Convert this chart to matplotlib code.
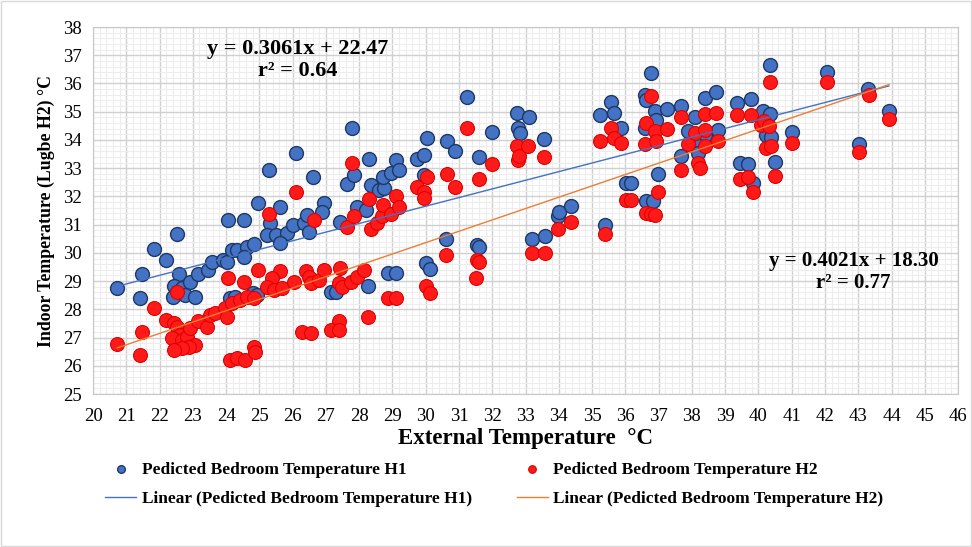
import numpy as np
import matplotlib.pyplot as plt
from matplotlib.patches import Rectangle
from matplotlib.ticker import MultipleLocator

plt.rcParams['font.family'] = ['Liberation Serif', 'DejaVu Serif']

# Temperatura exterior y temperatura interior predicha (H1)
h1_x = [20.73, 21.40, 21.47, 21.84, 22.20, 22.52, 22.57, 22.42, 22.52, 22.67,
        22.40, 22.77, 23.07, 22.92, 23.17, 23.47, 23.57, 23.92, 24.02, 24.18,
        24.33, 24.63, 24.83, 24.53, 24.81, 24.13, 24.28, 24.93, 24.07, 24.55,
        24.95, 25.30, 25.63, 25.33, 25.23, 25.50, 25.83, 25.63, 26.02, 26.33,
        26.43, 26.50, 26.10, 26.60, 26.94, 26.89, 27.14, 27.29, 27.42, 27.62,
        27.79, 27.84, 27.94, 28.19, 28.29, 28.34, 28.59, 28.74, 28.73, 28.95,
        29.10, 29.20, 28.26, 28.86, 29.12, 29.73, 29.95, 29.95, 30.00, 30.13,
        30.05, 30.60, 30.63, 30.88, 31.23, 31.55, 31.60, 31.60, 31.99, 32.73,
        32.76, 32.84, 33.10, 33.18, 33.58, 33.56, 33.97, 34.00, 34.37, 35.40,
        35.25, 35.57, 35.65, 35.87, 36.02, 36.17, 36.58, 36.63, 36.78, 36.88,
        36.93, 36.58, 37.25, 36.97, 36.63, 36.83, 37.68, 37.88, 37.66, 38.08,
        38.39, 38.71, 38.39, 38.78, 38.20, 38.18, 39.34, 39.44, 39.68, 39.79,
        39.84, 40.14, 40.34, 40.24, 40.39, 40.34, 40.51, 41.02, 42.05, 43.03,
        43.30, 43.92]
h1_y = [28.77, 28.39, 29.26, 30.14, 29.73, 30.67, 29.26, 28.81, 28.63, 28.75,
        28.45, 28.51, 28.45, 28.98, 29.26, 29.40, 29.69, 29.75, 29.69, 30.11,
        30.11, 30.22, 30.32, 29.87, 28.57, 28.39, 28.45, 28.51, 31.17, 31.15,
        31.77, 32.94, 31.63, 31.06, 30.64, 30.64, 30.70, 30.35, 31.00, 31.06,
        31.35, 30.74, 33.55, 32.70, 31.78, 31.46, 28.63, 28.60, 31.11, 32.45,
        34.44, 32.77, 31.62, 31.52, 33.33, 32.39, 32.24, 32.30, 32.70, 32.82,
        33.30, 32.94, 28.81, 29.28, 29.28, 33.32, 33.47, 32.77, 29.63, 29.43,
        34.06, 30.48, 33.97, 33.60, 35.52, 30.28, 30.22, 33.38, 34.28, 34.95,
        34.42, 34.24, 34.80, 30.50, 30.60, 34.03, 31.30, 31.45, 31.67, 30.99,
        34.89, 35.33, 34.95, 34.42, 32.49, 32.47, 35.60, 35.43, 36.36, 35.02,
        34.70, 34.42, 35.09, 32.80, 31.82, 31.84, 35.19, 34.33, 33.44, 34.81,
        35.48, 35.69, 34.18, 34.35, 33.77, 33.54, 35.31, 33.18, 33.16, 35.46,
        32.47, 35.02, 34.93, 34.18, 34.12, 36.64, 33.21, 34.28, 36.40, 33.85,
        35.82, 35.02]

# Temperatura interior predicha (H2)
h2_x = [20.73, 21.40, 21.47, 21.84, 22.20, 22.42, 22.52, 22.62, 22.37, 22.67,
        22.82, 22.92, 23.07, 22.87, 22.67, 22.42, 23.17, 23.42, 22.52, 23.52,
        23.67, 23.98, 24.02, 24.18, 24.43, 24.63, 24.83, 24.07, 24.55, 24.95,
        25.63, 25.38, 25.23, 25.43, 25.68, 26.03, 26.39, 26.49, 26.54, 26.79,
        24.13, 24.33, 24.58, 24.83, 24.88, 26.28, 26.54, 25.30, 26.10, 26.63,
        26.94, 27.39, 27.49, 27.74, 27.94, 28.14, 27.42, 27.39, 27.14, 27.39,
        27.62, 27.84, 27.79, 28.34, 28.54, 28.69, 28.29, 28.73, 28.95, 29.10,
        29.20, 28.26, 28.86, 29.12, 29.73, 29.95, 29.95, 30.05, 30.00, 30.13,
        30.60, 30.63, 30.88, 31.23, 31.55, 31.60, 31.52, 31.60, 31.99, 32.73,
        32.76, 32.81, 33.06, 33.18, 33.58, 33.56, 33.97, 34.37, 35.40, 35.25,
        35.57, 35.65, 35.87, 36.02, 36.17, 36.60, 36.63, 36.78, 36.88, 36.93,
        37.25, 36.97, 36.63, 36.78, 36.90, 37.68, 37.88, 37.66, 38.08, 38.39,
        38.39, 38.71, 38.78, 38.39, 38.18, 38.23, 39.34, 39.44, 39.68, 39.79,
        39.84, 40.09, 40.18, 40.31, 40.24, 40.37, 40.34, 40.51, 41.02, 42.05,
        43.03, 43.33, 43.92]
h2_y = [26.77, 26.38, 27.21, 28.04, 27.62, 27.51, 27.39, 27.09, 26.97, 26.91,
        27.03, 27.33, 26.74, 26.68, 26.62, 26.56, 27.57, 27.39, 28.63, 27.80,
        27.86, 28.04, 27.74, 28.21, 28.33, 28.45, 28.39, 29.10, 28.98, 29.40,
        29.34, 29.10, 28.78, 28.69, 28.75, 28.98, 29.34, 29.16, 28.92, 29.04,
        26.20, 26.26, 26.20, 26.68, 26.50, 27.21, 27.15, 31.38, 32.17, 31.17,
        29.40, 28.92, 28.78, 28.98, 29.16, 29.40, 29.46, 27.57, 27.27, 27.27,
        30.93, 31.31, 33.18, 30.84, 31.05, 31.29, 31.91, 31.70, 31.38, 32.00,
        31.64, 27.74, 28.39, 28.39, 32.35, 32.17, 31.94, 32.70, 28.81, 28.57,
        29.93, 32.80, 32.35, 34.42, 29.75, 29.68, 29.10, 32.61, 33.16, 33.77,
        33.30, 33.44, 33.80, 29.99, 30.01, 33.39, 30.84, 31.11, 30.67, 33.95,
        34.42, 34.07, 33.89, 31.88, 31.88, 33.87, 34.60, 35.54, 34.30, 33.98,
        34.38, 32.17, 31.40, 31.38, 31.35, 34.81, 33.87, 32.94, 34.24, 34.35,
        34.93, 34.95, 33.95, 33.77, 33.18, 33.00, 34.89, 32.61, 32.68, 34.89,
        32.14, 34.54, 34.66, 34.48, 33.72, 33.80, 36.07, 32.73, 33.89, 36.07,
        33.56, 35.60, 34.74]

# Coeficientes de las rectas de tendencia
h1_slope, h1_intercept, h1_r2 = 0.3061, 22.47, 0.64
h2_slope, h2_intercept, h2_r2 = 0.4021, 18.30, 0.77

fig = plt.figure(figsize=(9.72, 5.47), dpi=100)
ax = fig.add_axes([0.0957, 0.2797, 0.89, 0.6709])

# Rejilla mayor y menor
ax.xaxis.set_major_locator(MultipleLocator(1))
ax.yaxis.set_major_locator(MultipleLocator(1))
ax.xaxis.set_minor_locator(MultipleLocator(0.2))
ax.yaxis.set_minor_locator(MultipleLocator(0.2))
ax.grid(True, which='minor', color='#EDEDED', linewidth=0.8)
ax.grid(True, which='major', color='#D0D0D0', linewidth=1.0)
ax.set_axisbelow(True)

ax.scatter(h1_x, h1_y, s=100, color='#4472C4', edgecolors='#1F3864',
           linewidths=1.0, zorder=3, label='Pedicted Bedroom Temperature H1')
ax.scatter(h2_x, h2_y, s=100, color='#FF1A1A', edgecolors='#E00000',
           linewidths=0.8, zorder=3, label='Pedicted Bedroom Temperature H2')

# Rectas de tendencia
xs1 = np.array([min(h1_x), max(h1_x)])
xs2 = np.array([min(h2_x), max(h2_x)])
ax.plot(xs1, h1_slope * xs1 + h1_intercept, color='#4472C4', linewidth=1.0,
        zorder=4, label='Linear (Pedicted Bedroom Temperature H1)')
ax.plot(xs2, h2_slope * xs2 + h2_intercept, color='#ED7D31', linewidth=1.0,
        zorder=4, label='Linear (Pedicted Bedroom Temperature H2)')

ax.text(26.15, 36.83, f'y = {h1_slope:.4f}x + {h1_intercept:.2f}\nr\u00b2 = {h1_r2:.2f}',
        ha='center', va='center', fontsize=16, fontweight='bold',
        linespacing=1.1, zorder=5)
ax.text(42.86, 29.33, f'y = {h2_slope:.4f}x + {h2_intercept:.2f}\nr\u00b2 = {h2_r2:.2f}',
        ha='center', va='center', fontsize=15, fontweight='bold',
        linespacing=1.1, zorder=5)

ax.set_xlim(20, 46)
ax.set_ylim(25, 38)
ax.tick_params(which='both', length=0, labelsize=13.5, pad=10)
ax.tick_params(axis='y', pad=8)
for s in ax.spines.values():
    s.set_color('#C8C8C8')

ax.set_xlabel('External Temperature  \u00b0C', fontsize=16.5, fontweight='bold', labelpad=2)
ax.set_ylabel('Indoor Temperature (Lugbe H2) \u00b0C', fontsize=12.8, fontweight='bold', labelpad=6)

h, l = ax.get_legend_handles_labels()
order = [0, 2, 1, 3]
fig.legend([h[i] for i in order], [l[i] for i in order], ncol=2,
           loc='lower left', bbox_to_anchor=(0.092, 0.045), frameon=False,
           prop={'weight': 'bold', 'size': 12.5}, markerscale=0.55,
           columnspacing=2.6, handlelength=1.8, handletextpad=0.3,
           labelspacing=0.75)

# Marco exterior
fig.patches.append(Rectangle((0.001, 0.001), 0.998, 0.998, transform=fig.transFigure,
                             fill=False, edgecolor='#D9D9D9', linewidth=1))

plt.savefig('out.png', dpi=100)
